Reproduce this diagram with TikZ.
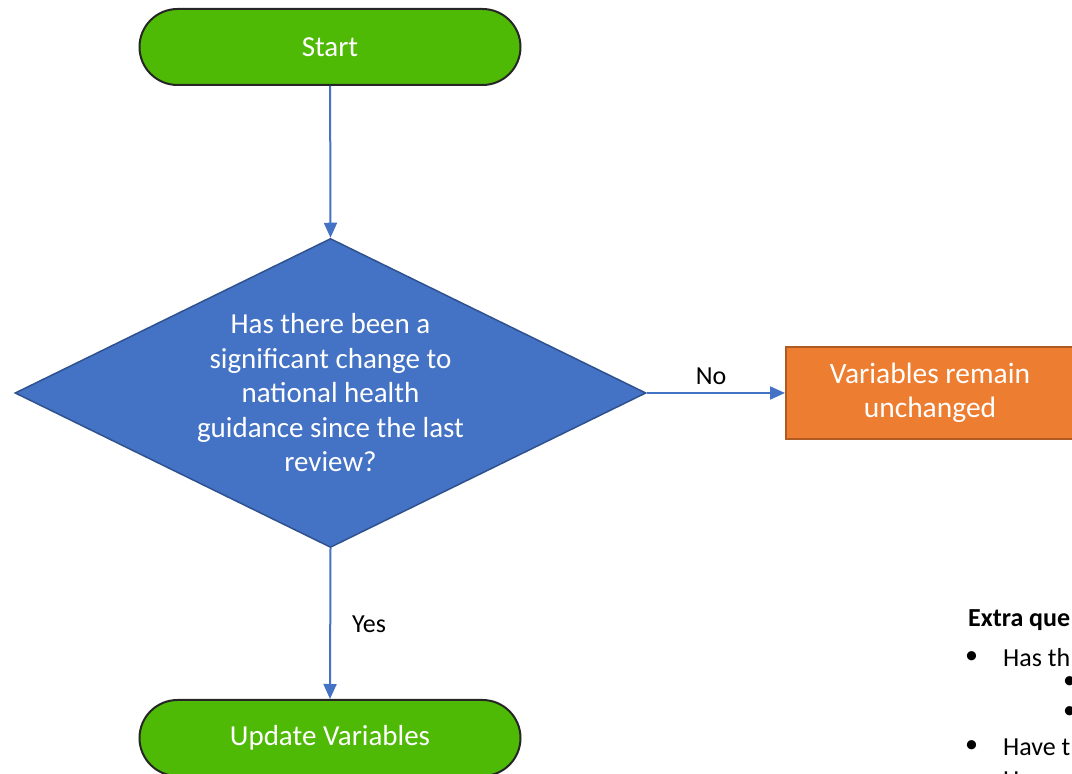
\documentclass[tikz,border=0pt]{standalone}
\usepackage{fontspec}
\setmainfont{Carlito}
\usetikzlibrary{shapes,arrows.meta,positioning,calc}
\definecolor{flowgreen}{RGB}{78,186,6}
\definecolor{flowblue}{RGB}{68,114,196}
\definecolor{flowblueline}{RGB}{47,82,143}
\definecolor{floworange}{RGB}{237,125,49}
\definecolor{floworangeline}{RGB}{174,90,33}
\definecolor{flowgray}{RGB}{38,38,38}

\begin{document}
\begin{tikzpicture}[x=1pt, y=1pt,
    terminal/.style={draw=flowgray, line width=2pt, fill=flowgreen, rectangle, rounded corners=38pt,
        minimum width=381pt, minimum height=76pt, text=white, font=\fontsize{29}{34}\selectfont},
    flowline/.style={-{Triangle[length=15pt,width=13pt]}, line width=2pt, flowblue},
    edgelabel/.style={font=\fontsize{26}{30}\selectfont},
    notes/.style={anchor=west, inner sep=0pt, font=\fontsize{26}{30}\selectfont}]
    \clip (0,0) rectangle (1072,774);
    % Flowchart
    \node[terminal] (start) at (330,727) {Start};
    \node[draw=flowblueline, line width=1.5pt, fill=flowblue, diamond, aspect=2.04, inner sep=0pt,
        minimum width=631pt, minimum height=309pt, text=white, align=center,
        font=\fontsize{29}{34.5}\selectfont] (question) at (330.5,381)
        {Has there been a\\significant change to\\national health\\guidance since the last\\review?};
    \node[draw=floworangeline, line width=2pt, fill=floworange, rectangle, minimum width=288pt,
        minimum height=92pt, text=white, align=center, font=\fontsize{29.5}{34}\selectfont]
        (unchanged) at (930,381) {Variables remain\\unchanged};
    \node[terminal] (update) at (330,36) {Update Variables};

    \draw[flowline] (start) -- (question.north);
    \draw[flowline] (question.east) -- (unchanged.west);
    \node[edgelabel] (nolabel) at (711,398) {No};
    \draw[flowline] (question.south) -- (update.north);
    \node[edgelabel] (yeslabel) at (369,150) {Yes};

    % Extra questions
    \node[notes, font=\fontsize{26}{30}\selectfont\bfseries] (extra) at (968,154) {Extra que};
    \node[notes] (bulletone) at (965,116) {\textbullet};
    \node[notes] (itemone) at (1003,116) {Has th};
    \node[notes] (subone) at (1063,91) {\textbullet};
    \node[notes] (subtwo) at (1063,61) {\textbullet};
    \node[notes] (bullettwo) at (965,27) {\textbullet};
    \node[notes] (itemtwo) at (1003,27) {Have t};
    \node[notes] (itemthree) at (1003,-6) {Hav};
\end{tikzpicture}
\end{document}
